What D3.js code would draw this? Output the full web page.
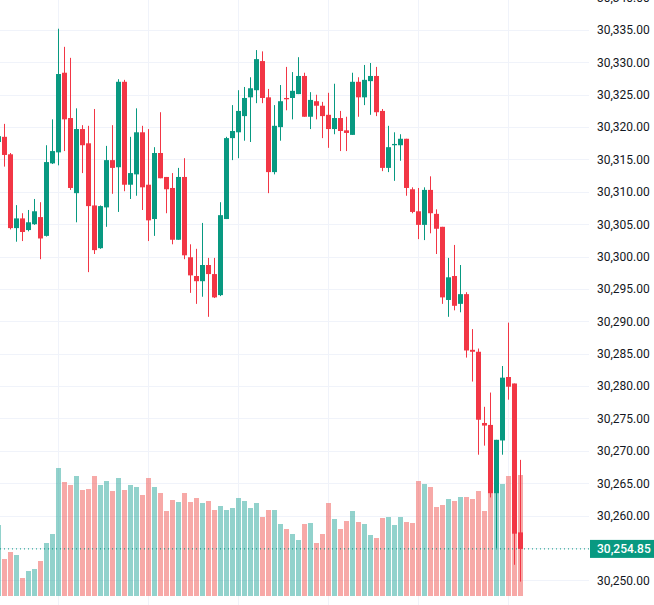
<!DOCTYPE html>
<html>
<head>
<meta charset="utf-8">
<script src="https://cdn.jsdelivr.net/npm/d3@7"></script>
<style>
  body { margin: 0; background: #ffffff; }
  svg { display: block; font-family: Roboto, "Noto Sans", sans-serif; }
</style>
</head>
<body>
<svg></svg>
<script>
// candle data, one entry per bar (left to right)
var openPrices = [30317.7, 30318.5, 30315.8, 30304.4, 30305.9, 30304.1, 30305.0, 30306.1, 30303.2, 30314.4,
  30316.1, 30328.4, 30321.4, 30309.8, 30319.7, 30317.5, 30307.9, 30301.3, 30307.6, 30314.9,
  30313.8, 30327.0, 30311.1, 30312.7, 30319.2, 30311.1, 30305.8, 30316.0, 30312.3, 30310.6,
  30302.6, 30312.3, 30299.9, 30297.0, 30296.2, 30298.7, 30297.3, 30294.05, 30305.8, 30318.3,
  30319.2, 30321.7, 30324.6, 30325.7, 30330.2, 30324.6, 30313.05, 30320.0, 30324.5, 30324.5,
  30325.1, 30327.9, 30321.6, 30324.0, 30323.3, 30321.9, 30319.7, 30321.4, 30319.5, 30318.8,
  30327.0, 30324.6, 30327.1, 30327.9, 30322.5, 30313.7, 30317.2, 30317.2, 30318.2, 30310.4,
  30307.0, 30304.9, 30310.3, 30306.6, 30304.6, 30293.3, 30297.0, 30292.7, 30294.2, 30285.6,
  30285.3, 30274.3, 30274.0, 30263.4, 30271.6, 30281.4, 30280.4, 30257.4];
var highPrices = [30319.5, 30320.5, 30316.0, 30307.95, 30306.7, 30307.2, 30308.9, 30308.4, 30317.2, 30321.2,
  30335.2, 30332.4, 30330.7, 30322.9, 30320.3, 30320.2, 30322.8, 30307.9, 30317.1, 30320.3,
  30327.4, 30327.3, 30318.5, 30322.9, 30320.2, 30319.7, 30316.9, 30322.3, 30312.3, 30312.9,
  30313.7, 30315.2, 30301.9, 30301.2, 30305.2, 30299.8, 30299.8, 30308.4, 30318.5, 30323.4,
  30325.7, 30326.2, 30327.7, 30331.9, 30331.7, 30325.9, 30323.4, 30326.5, 30329.3, 30328.5,
  30330.8, 30328.4, 30325.4, 30325.0, 30323.9, 30325.3, 30326.7, 30322.5, 30321.6, 30328.4,
  30327.7, 30329.6, 30329.9, 30329.3, 30322.8, 30320.2, 30319.2, 30318.9, 30318.2, 30310.7,
  30310.6, 30310.7, 30312.4, 30307.3, 30304.6, 30299.8, 30301.8, 30298.7, 30294.5, 30288.8,
  30285.8, 30276.8, 30279.0, 30271.7, 30283.1, 30289.8, 30280.4, 30268.6];
var lowPrices = [30316.5, 30313.9, 30304.2, 30302.3, 30302.4, 30303.9, 30304.9, 30299.6, 30303.1, 30314.3,
  30314.1, 30316.3, 30310.3, 30305.3, 30312.9, 30297.6, 30300.4, 30301.2, 30304.6, 30309.7,
  30306.9, 30310.1, 30308.9, 30309.4, 30307.2, 30302.4, 30303.2, 30312.1, 30306.7, 30301.9,
  30302.6, 30299.6, 30294.4, 30292.7, 30293.8, 30290.7, 30293.6, 30293.9, 30305.8, 30314.9,
  30315.2, 30317.9, 30317.7, 30323.7, 30323.7, 30309.8, 30312.7, 30317.9, 30322.6, 30321.2,
  30325.1, 30321.6, 30319.7, 30321.2, 30318.3, 30316.8, 30318.9, 30316.3, 30316.3, 30318.8,
  30321.6, 30323.4, 30321.9, 30321.7, 30313.2, 30313.05, 30311.7, 30314.8, 30309.4, 30306.7,
  30302.7, 30302.55, 30303.6, 30300.4, 30292.7, 30290.7, 30291.7, 30291.4, 30284.4, 30280.7,
  30269.4, 30270.8, 30262.8, 30255.0, 30269.4, 30277.9, 30252.4, 30249.8];
var closePrices = [30318.6, 30315.7, 30304.4, 30305.9, 30303.8, 30305.3, 30307.0, 30302.8, 30314.6, 30316.3,
  30328.2, 30321.2, 30310.6, 30319.7, 30317.2, 30307.8, 30301.0, 30307.8, 30314.9, 30313.7,
  30327.0, 30311.1, 30312.9, 30319.2, 30310.7, 30305.6, 30316.0, 30312.1, 30310.4, 30302.6,
  30312.3, 30300.2, 30297.1, 30296.2, 30298.7, 30297.3, 30293.7, 30306.4, 30318.3, 30319.4,
  30322.5, 30324.5, 30326.0, 30330.5, 30324.5, 30313.05, 30320.2, 30324.0, 30324.3, 30325.6,
  30327.9, 30321.6, 30324.2, 30323.3, 30321.7, 30319.7, 30321.4, 30319.4, 30319.1, 30327.0,
  30324.6, 30327.3, 30327.9, 30322.3, 30313.7, 30316.9, 30317.4, 30318.2, 30310.6, 30306.9,
  30304.9, 30310.3, 30306.7, 30304.3, 30293.7, 30296.8, 30292.4, 30294.2, 30285.5, 30285.3,
  30274.8, 30273.9, 30263.4, 30271.7, 30281.3, 30279.9, 30257.2, 30254.85];
var volumes = [71, 37, 44, 41, 18, 25, 27, 35, 53, 62,
  128, 114, 111, 120, 106, 107, 120, 111, 115, 105,
  118, 106, 111, 109, 101, 118, 109, 103, 85, 96,
  94, 103, 94, 98, 93, 95, 86, 90, 86, 88,
  98, 95, 88, 93, 79, 86, 86, 72, 67, 62,
  56, 72, 73, 53, 62, 93, 77, 67, 75, 85,
  74, 72, 61, 58, 78, 79, 71, 79, 74, 73,
  115, 112, 109, 89, 91, 97, 95, 99, 99, 97,
  105, 85, 102, 102, 112, 120, 110, 121];
var priceTicks = [30250, 30255, 30260, 30265, 30270, 30275, 30280, 30285, 30290,
  30295, 30300, 30305, 30310, 30315, 30320, 30325, 30330, 30335, 30340];
var lastPrice = 30254.85;

// dimensions
var svgWidth = 654;
var svgHeight = 605;
var plotRight = 589;

var svg = d3.select("svg")
  .attr("width", svgWidth)
  .attr("height", svgHeight);

var upColor = "#089981";
var downColor = "#f23645";

var candles = openPrices.map(function(o, i) {
  return { i: i, open: o, high: highPrices[i], low: lowPrices[i], close: closePrices[i], volume: volumes[i] };
});

// scales
var xScale = d3.scaleLinear()
  .domain([0, candles.length - 1])
  .range([-1.5, -1.5 + 6 * (candles.length - 1)]);

var yScale = d3.scaleLinear()
  .domain([30250, 30335])
  .range([580.3, 30]);

var volScale = d3.scaleLinear()
  .domain([0, 128])
  .range([596, 468]);

// grid lines
var grid = svg.append("g");
grid.selectAll(".hgrid")
  .data(priceTicks)
  .enter()
  .append("line")
  .attr("x1", 0)
  .attr("x2", plotRight)
  .attr("y1", d => Math.round(yScale(d)) + 0.5)
  .attr("y2", d => Math.round(yScale(d)) + 0.5)
  .attr("stroke", "#f0f3fa");

grid.selectAll(".vgrid")
  .data([10, 25, 40, 55, 70, 85])
  .enter()
  .append("line")
  .attr("x1", d => Math.floor(xScale(d)) + 0.5)
  .attr("x2", d => Math.floor(xScale(d)) + 0.5)
  .attr("y1", 0)
  .attr("y2", svgHeight)
  .attr("stroke", "#f0f3fa");

// volume bars
svg.append("g")
  .selectAll("rect")
  .data(candles)
  .enter()
  .append("rect")
  .attr("x", d => xScale(d.i) - 2.5)
  .attr("width", 5)
  .attr("y", d => volScale(d.volume))
  .attr("height", d => volScale(0) - volScale(d.volume))
  .attr("fill", d => d.close >= d.open ? "#26a69a" : "#ef5350")
  .attr("fill-opacity", 0.5);

// last price line
svg.append("line")
  .attr("x1", 0)
  .attr("x2", plotRight)
  .attr("y1", yScale(lastPrice))
  .attr("y2", yScale(lastPrice))
  .attr("stroke", upColor)
  .attr("stroke-width", 1)
  .attr("stroke-dasharray", "1,3");

// candles
var candleGroup = svg.append("g");
candleGroup.selectAll(".wick")
  .data(candles)
  .enter()
  .append("rect")
  .attr("x", d => xScale(d.i) - 0.5)
  .attr("width", 1)
  .attr("y", d => yScale(d.high))
  .attr("height", d => Math.max(1, yScale(d.low) - yScale(d.high)))
  .attr("fill", d => d.close >= d.open ? upColor : downColor);

candleGroup.selectAll(".body")
  .data(candles)
  .enter()
  .append("rect")
  .attr("x", d => xScale(d.i) - 2.5)
  .attr("width", 5)
  .attr("y", d => yScale(Math.max(d.open, d.close)))
  .attr("height", d => Math.max(1, Math.abs(yScale(d.open) - yScale(d.close))))
  .attr("fill", d => d.close >= d.open ? upColor : downColor);

// price axis on the right
var rightAxis = d3.axisRight(yScale)
  .tickValues(priceTicks)
  .tickSize(0)
  .tickPadding(8)
  .tickFormat(d3.format(",.2f"));

var axisGroup = svg.append("g")
  .attr("transform", `translate(${plotRight},0)`)
  .call(rightAxis);
axisGroup.select(".domain").remove();
axisGroup.selectAll("text")
  .attr("font-size", 12)
  .attr("font-family", "Roboto, sans-serif")
  .attr("fill", "#131722");

// last price label
var labelY = yScale(lastPrice);
svg.append("rect")
  .attr("x", 590)
  .attr("y", labelY - 9)
  .attr("width", 64)
  .attr("height", 18)
  .attr("fill", upColor);
svg.append("text")
  .attr("x", 597)
  .attr("y", labelY)
  .attr("dy", "0.35em")
  .attr("font-size", 12)
  .attr("font-weight", 500)
  .attr("fill", "#ffffff")
  .text(d3.format(",.2f")(lastPrice));
</script>
</body>
</html>
